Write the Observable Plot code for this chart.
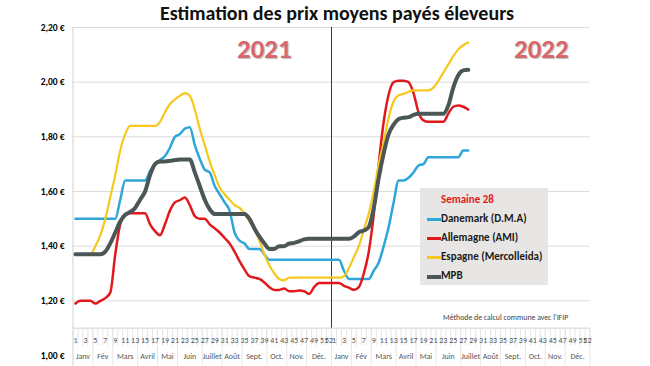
<!DOCTYPE html>
<html><head><meta charset="utf-8">
<script src="https://cdn.jsdelivr.net/npm/d3@7"></script>
<script src="https://cdn.jsdelivr.net/npm/@observablehq/plot@0.6"></script>
<style>
body{margin:0;background:#fff;font-family:Carlito,Lato,sans-serif;}
#wrap{position:relative;width:650px;height:366px;overflow:hidden;background:#fff;}
#chart{position:absolute;left:0;top:0;}
.abs{position:absolute;white-space:nowrap;}
.title{left:0;width:674px;top:1px;text-align:center;font-size:20px;font-weight:bold;color:#111;}
.year{font-size:27px;font-weight:bold;color:#d6676d;text-shadow:1px 1px 1px rgba(0,0,0,0.25);}
#legend{left:420px;top:188px;width:128px;height:97px;background:#e8e6e4;}
.lg{position:absolute;font-size:11px;font-weight:bold;color:#1a1a1a;line-height:12px;}
.sw{position:absolute;width:14px;}
.note{left:443px;top:313px;font-size:7.8px;color:#404040;}
svg g[aria-label="y-axis tick label"] text{font-weight:bold;}
</style></head><body>
<div id="wrap">
 <div id="chart"></div>
 <div class="abs title">Estimation des prix moyens payés éleveurs</div>
 <div class="abs year" style="left:237px;top:32px;">2021</div>
 <div class="abs year" style="left:514px;top:32px;">2022</div>
 <div class="abs" id="legend"></div>
 <div class="abs note">Méthode de calcul commune avec l'IFIP</div>
</div>
<script>
// ---- data ----
const weekNumbers = [1,2,3,4,5,6,7,8,9,10,11,12,13,14,15,16,17,18,19,20,21,22,23,24,25,26,27,28,29,30,31,32,33,34,35,36,37,38,39,40,41,42,43,44,45,46,47,48,49,50,51,52];
const years = ["2021", "2022"];
const monthNames = ["Janv","Fév","Mars","Avril","Mai","Juin","Juillet","Août","Sept.","Oct.","Nov.","Déc."];
const monthWeeks = [4,4,5,4,4,5,4,4,5,4,4,5];
const yTicks = [1.0,1.2,1.4,1.6,1.8,2.0,2.2];
const gridValues = [1.2,1.4,1.6,1.8,2.0,2.2];
const legendTitle = "Semaine 28";
const seriesNames = ["Danemark (D.M.A)","Allemagne (AMI)","Espagne (Mercolleida)","MPB"];
const seriesColors = ["#2fa6d9","#e2191c","#f6c81e","#4b5756"];
const seriesWidths = [2.5,2.5,2.2,4];

// weekly values: 2021 weeks 1-52, then 2022 weeks 1-28
const danemark = [
1.50,1.50,1.50,1.50,1.50,1.50,1.50,1.50,1.50,1.57,
1.64,1.64,1.64,1.64,1.64,1.675,1.70,1.715,1.73,1.76,
1.80,1.81,1.83,1.835,1.77,1.72,1.68,1.67,1.62,1.59,
1.56,1.53,1.45,1.42,1.41,1.39,1.39,1.39,1.37,1.35,
1.35,1.35,1.35,1.35,1.35,1.35,1.35,1.35,1.35,1.35,
1.35,1.35,1.35,1.35,1.31,1.28,1.28,1.28,1.28,1.28,
1.31,1.34,1.40,1.47,1.56,1.64,1.64,1.65,1.67,1.695,
1.70,1.725,1.725,1.725,1.725,1.725,1.725,1.725,1.75,1.75];
const allemagne = [
1.19,1.20,1.20,1.20,1.19,1.20,1.21,1.23,1.37,1.48,
1.515,1.52,1.52,1.52,1.52,1.48,1.455,1.44,1.48,1.53,
1.56,1.568,1.578,1.55,1.51,1.50,1.50,1.48,1.465,1.45,
1.43,1.41,1.38,1.345,1.315,1.29,1.285,1.28,1.267,1.25,
1.24,1.24,1.245,1.235,1.235,1.238,1.235,1.225,1.25,1.265,
1.265,1.265,1.265,1.265,1.255,1.248,1.24,1.25,1.30,1.38,
1.515,1.70,1.855,1.955,2.00,2.005,2.005,2.00,1.96,1.89,
1.86,1.855,1.855,1.855,1.855,1.885,1.91,1.915,1.91,1.90];
const espagne = [
1.37,1.37,1.37,1.37,1.40,1.44,1.50,1.58,1.66,1.75,
1.81,1.84,1.84,1.84,1.84,1.84,1.84,1.855,1.89,1.92,
1.937,1.95,1.96,1.95,1.90,1.83,1.77,1.71,1.66,1.615,
1.59,1.57,1.55,1.54,1.52,1.49,1.46,1.42,1.37,1.33,
1.30,1.28,1.275,1.285,1.285,1.285,1.285,1.285,1.285,1.285,
1.285,1.285,1.285,1.285,1.29,1.32,1.36,1.40,1.46,1.52,
1.60,1.70,1.78,1.87,1.93,1.952,1.957,1.965,1.97,1.97,
1.97,1.97,1.98,2.005,2.035,2.065,2.095,2.12,2.135,2.145];
const mpb = [
1.37,1.37,1.37,1.37,1.37,1.37,1.38,1.41,1.45,1.49,
1.515,1.525,1.54,1.57,1.60,1.66,1.70,1.71,1.71,1.712,
1.715,1.717,1.717,1.717,1.67,1.62,1.57,1.535,1.518,1.518,
1.518,1.518,1.518,1.518,1.518,1.50,1.465,1.435,1.41,1.39,
1.39,1.40,1.40,1.41,1.412,1.418,1.425,1.427,1.427,1.427,
1.427,1.427,1.427,1.427,1.427,1.427,1.435,1.451,1.457,1.47,
1.54,1.65,1.74,1.81,1.845,1.865,1.87,1.872,1.88,1.884,
1.884,1.884,1.884,1.884,1.884,1.915,1.98,2.025,2.043,2.045];
const seriesValues = [danemark, allemagne, espagne, mpb];

// ---- build tables ----
const nWeeks = weekNumbers.length;
const rows = [];
seriesValues.forEach((vals, s) => vals.forEach((v, i) => rows.push({i, v, s})));

const weekRows = [];
years.forEach((yr, k) => weekNumbers.forEach((w, j) => {
  if (w % 2 === 1 || w === 52) weekRows.push({i: k * nWeeks + j, label: String(w)});
}));
const weekBounds = [];
for (let b = -0.5; b <= years.length * nWeeks - 0.5; b += 1) weekBounds.push(b);

const monthRows = [];
const monthBounds = [];
years.forEach((yr, k) => {
  let start = k * nWeeks;
  monthBounds.push(start - 0.5);
  monthNames.forEach((m, j) => {
    const n = monthWeeks[j];
    monthRows.push({i: start + (n - 1) / 2, label: m});
    start += n;
    monthBounds.push(start - 0.5);
  });
});

const yearDivider = [nWeeks - 0.5];
const fr = d => d.toFixed(2).replace(".", ",") + " €";
const W = years.length * nWeeks;

const chart = Plot.plot({
  width: 650, height: 366,
  marginLeft: 72.5, marginRight: 60.5, marginTop: 27, marginBottom: 11,
  style: {fontFamily: "Carlito, Lato, sans-serif", background: "transparent"},
  x: {domain: [-0.5, W - 0.5], axis: null},
  y: {domain: [1.0, 2.2]},
  marks: [
    Plot.ruleY(gridValues, {stroke: "#dcdcdc", strokeWidth: 1}),
    Plot.ruleY([1.1], {stroke: "#d0d0d0", strokeWidth: 1}),
    Plot.ruleX([-0.5], {y1: () => 0.96, y2: () => 2.2, stroke: "#d0d0d0"}),
    Plot.ruleX(weekBounds, {x: d => d, y1: () => 1.1, y2: () => 1.035, stroke: "#e6e6e6"}),
    Plot.ruleX(monthBounds, {x: d => d, y1: () => 1.1, y2: () => 0.96, stroke: "#e6e6e6"}),
    Plot.ruleX(yearDivider, {x: d => d, y1: () => 1.1, y2: () => 2.2, stroke: "#3a3a3a", strokeWidth: 1}),
    Plot.axisY({ticks: yTicks, tickSize: 0, tickPadding: 8.5, tickFormat: fr, fontSize: 9.5, fill: "#000", label: null}),
    Plot.text(weekRows, {x: "i", y: () => 1.055, text: "label", fontSize: 8, fill: "#555"}),
    Plot.text(monthRows, {x: "i", y: () => 0.997, text: "label", fontSize: 8, fill: "#555"}),
    ...seriesValues.map((vals, s) => Plot.line(rows.filter(r => r.s === s), {
      x: "i", y: "v", stroke: seriesColors[s], strokeWidth: seriesWidths[s],
      curve: "monotone-x", strokeLinejoin: "round", strokeLinecap: "round"
    }))
  ]
});
document.getElementById("chart").appendChild(chart);

// ---- legend ----
const lg = document.getElementById("legend");
const t = document.createElement("div");
t.className = "lg"; t.textContent = legendTitle;
t.style.left = "21px"; t.style.top = "6px"; t.style.color = "#e2191c";
lg.appendChild(t);
seriesNames.forEach((n, s) => {
  const cy = 31.5 + s * 19;
  const sw = document.createElement("div");
  sw.className = "sw";
  sw.style.left = "7px"; sw.style.top = (cy - seriesWidths[s] / 2) + "px";
  sw.style.height = Math.max(2.5, seriesWidths[s]) + "px"; sw.style.background = seriesColors[s];
  lg.appendChild(sw);
  const tx = document.createElement("div");
  tx.className = "lg"; tx.textContent = n;
  tx.style.left = "21px"; tx.style.top = (cy - 6.5) + "px";
  lg.appendChild(tx);
});
</script>
</body></html>
